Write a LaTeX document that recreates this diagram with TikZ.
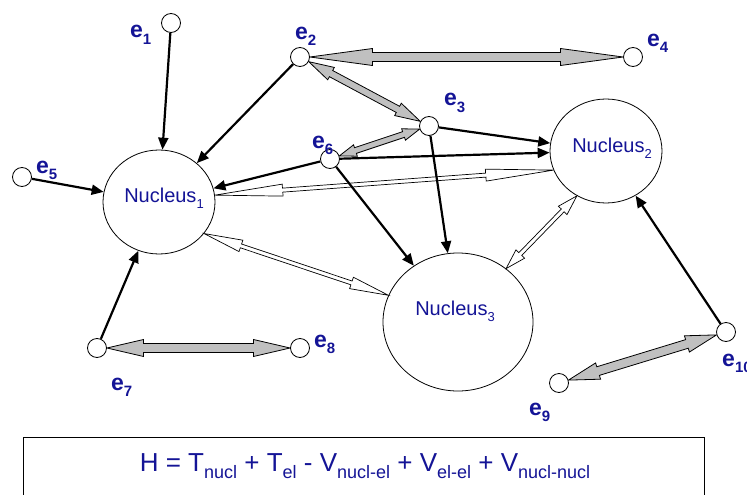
\documentclass[tikz,border=0pt]{standalone}
\usepackage{fontspec}
\setmainfont{Liberation Sans}
\usetikzlibrary{arrows.meta,calc,backgrounds,shapes.geometric}
\definecolor{txtblue}{RGB}{20,20,150}
\definecolor{arrgray}{RGB}{192,192,192}
\newcommand\elab[1]{{\fontsize{23}{23}\selectfont\bfseries e\raisebox{-6pt}{\fontsize{15}{15}\selectfont #1}}}
\newcommand\nlab[1]{{\fontsize{20}{20}\selectfont Nucleus\raisebox{-6pt}{\fontsize{13}{13}\selectfont #1}}}
\newcommand\eqsub[1]{\raisebox{-7pt}{\fontsize{18}{18}\selectfont #1}}
\newcommand\fatdbl[5]{%
  \path (#2) -- (#3) coordinate[pos=0] (fa) coordinate[pos=1] (fb);
  \draw[#1] (fa) -- ($(fa)!0.2!(fb)!#5!90:(fb)$) -- ($(fa)!0.2!(fb)!#4!90:(fb)$)
    -- ($(fa)!0.8!(fb)!#4!90:(fb)$) -- ($(fa)!0.8!(fb)!#5!90:(fb)$) -- (fb)
    -- ($(fa)!0.8!(fb)!#5!-90:(fb)$) -- ($(fa)!0.8!(fb)!#4!-90:(fb)$)
    -- ($(fa)!0.2!(fb)!#4!-90:(fb)$) -- ($(fa)!0.2!(fb)!#5!-90:(fb)$) -- cycle;
}
\tikzset{
  electron/.style={circle, draw, fill=white, line width=0.8pt, minimum size=19pt, inner sep=0pt},
  nucleus/.style={ellipse, draw, line width=0.8pt, inner sep=0pt},
  elabel/.style={text=txtblue, inner sep=0pt, anchor=base west},
  nlabel/.style={text=txtblue, inner sep=0pt, anchor=base},
  bond/.style={line width=2.2pt, -{Triangle[length=12pt,width=10pt]}},
  grayarrow/.style={draw=black, fill=arrgray, line width=0.8pt},
  whitearrow/.style={draw=black, fill=white, line width=0.7pt},
}
\begin{document}
\begin{tikzpicture}[x=1pt,y=-1pt]
\useasboundingbox (0,0) rectangle (747,495);
\clip (0,0) rectangle (747,495);
% nuclei
\node[nucleus, minimum width=112pt, minimum height=104pt] (n1) at (159,202) {};
\node[nucleus, minimum width=112pt, minimum height=104pt] (n2) at (606,151) {};
\node[nucleus, minimum width=150pt, minimum height=138pt] (n3) at (458,322) {};
\node[nlabel] (t1) at (164,202) {\nlab{1}};
\node[nlabel] (t2) at (612,152) {\nlab{2}};
\node[nlabel] (t3) at (455,315) {\nlab{3}};
% electrons
\node[electron] (e1) at (171,23) {};
\node[electron] (e2) at (300,57) {};
\node[electron] (e3) at (429,126) {};
\node[electron] (e4) at (633,57) {};
\node[electron] (e5) at (22,177) {};
\node[electron] (e6) at (330,159) {};
\node[electron] (e7) at (97,348) {};
\node[electron] (e8) at (300,348) {};
\node[electron] (e9) at (559,383) {};
\node[electron] (e10) at (726,332) {};
% electron labels
\node[elabel] (l1) at (130,38) {\elab{1}};
\node[elabel] (l2) at (295,40) {\elab{2}};
\node[elabel] (l3) at (444,106) {\elab{3}};
\node[elabel] (l4) at (647,47) {\elab{4}};
\node[elabel] (l5) at (36,173) {\elab{5}};
\node[elabel] (l6) at (312,148) {\elab{6}};
\node[elabel] (l7) at (111,390) {\elab{7}};
\node[elabel] (l8) at (314,347) {\elab{8}};
\node[elabel] (l9) at (529,415) {\elab{9}};
\node[elabel] (l10) at (722,366) {\elab{10}};
% equation
\draw[line width=0.9pt] (23,437) rectangle (704,510);
\node[nlabel] (eq) at (365,471) {\fontsize{26}{26}\selectfont H = T\eqsub{nucl} + T\eqsub{el} - V\eqsub{nucl-el} + V\eqsub{el-el} + V\eqsub{nucl-nucl}};
\begin{scope}[on background layer]
  \fatdbl{whitearrow}{n1.7}{n2.200}{2pt}{6pt}
  \fatdbl{whitearrow}{n1.-35}{n3.159}{2pt}{6pt}
  \fatdbl{whitearrow}{n2.237}{n3.48}{2pt}{6pt}
  \draw[bond] (e1) -- (n1);
  \draw[bond] (e2) -- (n1);
  \draw[bond] (e5) -- (n1);
  \draw[bond] (e6) -- (n1);
  \draw[bond] (e7) -- (n1);
  \draw[bond] (e3) -- (n2);
  \draw[bond] (e6) -- (n2);
  \draw[bond] (e3) -- (n3);
  \draw[bond] (e6) -- (n3);
  \draw[bond] (e10) -- (n2);
  \fatdbl{grayarrow}{e2}{e4}{4.5pt}{8.5pt}
  \fatdbl{grayarrow}{e2}{e3}{3.5pt}{7pt}
  \fatdbl{grayarrow}{e6}{e3}{3pt}{6pt}
  \fatdbl{grayarrow}{e7}{e8}{4.5pt}{8.5pt}
  \fatdbl{grayarrow}{e9}{e10}{4.5pt}{8.5pt}
\end{scope}
\end{tikzpicture}
\end{document}
